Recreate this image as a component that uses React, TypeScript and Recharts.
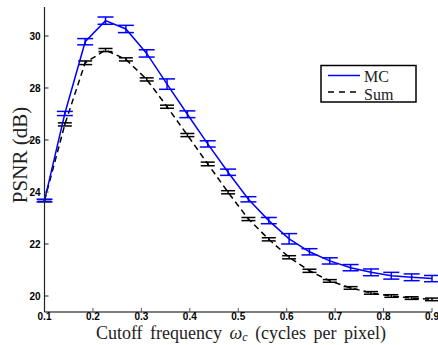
import React from 'react';
import { LineChart, Line, XAxis, YAxis, ErrorBar, Label } from 'recharts';

const cutoff = [0.1, 0.142, 0.184, 0.226, 0.268, 0.311, 0.353, 0.395, 0.437, 0.479, 0.521, 0.563, 0.605, 0.647, 0.689, 0.732, 0.774, 0.816, 0.858, 0.9];
const mcValues = [23.67, 27.02, 29.78, 30.59, 30.27, 29.33, 28.15, 26.99, 25.85, 24.76, 23.72, 22.9, 22.2, 21.7, 21.35, 21.09, 20.91, 20.78, 20.72, 20.67];
const mcErrors = [0.05, 0.08, 0.12, 0.14, 0.14, 0.14, 0.2, 0.13, 0.12, 0.12, 0.1, 0.12, 0.2, 0.12, 0.12, 0.12, 0.13, 0.13, 0.13, 0.12];
const sumValues = [23.67, 26.6, 28.97, 29.46, 29.1, 28.33, 27.28, 26.19, 25.08, 23.99, 22.96, 22.18, 21.49, 20.97, 20.58, 20.31, 20.12, 20.0, 19.92, 19.87];
const sumErrors = [0.04, 0.06, 0.07, 0.06, 0.06, 0.06, 0.06, 0.06, 0.07, 0.06, 0.06, 0.06, 0.06, 0.06, 0.05, 0.05, 0.05, 0.05, 0.05, 0.05];
const xTicks = [0.1, 0.2, 0.3, 0.4, 0.5, 0.6, 0.7, 0.8, 0.9];
const yTicks = [20, 22, 24, 26, 28, 30];
const seriesNames = ['MC', 'Sum'];

const data = cutoff.map((x, i) => ({
  x,
  mc: mcValues[i],
  mcErr: mcErrors[i],
  sum: sumValues[i],
  sumErr: sumErrors[i],
}));

const serif = '"Liberation Serif", "Times New Roman", serif';
const sans = '"Liberation Sans", Arial, sans-serif';
const tickStyle = { fontFamily: sans, fontWeight: 'bold' as const, fontSize: 10, fill: '#000' };

const LegendBox = () => (
  <svg
    width={438}
    height={345}
    style={{ position: 'absolute', left: 0, top: 0, pointerEvents: 'none' }}
  >
    <rect x={321} y={65.5} width={95} height={36.5} fill="#fff" stroke="#000" strokeWidth={1.5} />
    <line x1={328} y1={75.5} x2={360} y2={75.5} stroke="#0000ff" strokeWidth={1.5} />
    <line x1={328} y1={92} x2={360} y2={92} stroke="#000" strokeWidth={1.5} strokeDasharray="6 5" />
    <text x={364} y={82} fontFamily={serif} fontSize={16} fill="#222">{seriesNames[0]}</text>
    <text x={364} y={100} fontFamily={serif} fontSize={16} fill="#222">{seriesNames[1]}</text>
  </svg>
);

const XLabel = () => (
  <text x={241} y={339} textAnchor="middle" fontFamily={serif} fontSize={18} fill="#222" wordSpacing={3}>
    Cutoff frequency <tspan fontStyle="italic">ω</tspan>
    <tspan fontStyle="italic" fontSize={12} dy={2}>c</tspan>
    <tspan dy={-2}> (cycles per pixel)</tspan>
  </text>
);

const YLabel = () => (
  <text
    x={27}
    y={155}
    transform="rotate(-90, 27, 155)"
    textAnchor="middle"
    fontFamily={serif}
    fontSize={21}
    fill="#222"
  >
    PSNR (dB)
  </text>
);

export default function App() {
  return (
    <div style={{ position: 'absolute', left: 0, top: 0, width: 438, height: 345, background: '#fff' }}>
      <LineChart width={438} height={345} data={data} margin={{ top: 7, right: 6, bottom: 0, left: 0 }}>
        <XAxis
          dataKey="x"
          type="number"
          domain={[0.1, 0.9]}
          ticks={xTicks}
          tickFormatter={(v: number) => v.toFixed(1)}
          height={33}
          tickSize={-4}
          tickMargin={5}
          tick={tickStyle}
          axisLine={{ stroke: '#555', strokeWidth: 1.5 }}
          tickLine={{ stroke: '#555' }}
          interval={0}
        >
          <Label content={<XLabel />} />
        </XAxis>
        <YAxis
          type="number"
          domain={[19.385, 31.115]}
          ticks={yTicks}
          width={44.5}
          tickSize={-4}
          tickMargin={8}
          tick={tickStyle}
          axisLine={{ stroke: '#222', strokeWidth: 1.2 }}
          tickLine={{ stroke: '#222' }}
          interval={0}
          allowDataOverflow
        >
          <Label content={<YLabel />} />
        </YAxis>
        <Line
          dataKey="sum"
          name={seriesNames[1]}
          stroke="#000"
          strokeWidth={1.5}
          strokeDasharray="6 4"
          dot={false}
          isAnimationActive={false}
        >
          <ErrorBar dataKey="sumErr" width={7} stroke="#000" strokeWidth={1.5} direction="y" />
        </Line>
        <Line
          dataKey="mc"
          name={seriesNames[0]}
          stroke="#0000ff"
          strokeWidth={1.5}
          dot={false}
          isAnimationActive={false}
        >
          <ErrorBar dataKey="mcErr" width={8} stroke="#0000ff" strokeWidth={1.5} direction="y" />
        </Line>
      </LineChart>
      <LegendBox />
    </div>
  );
}
